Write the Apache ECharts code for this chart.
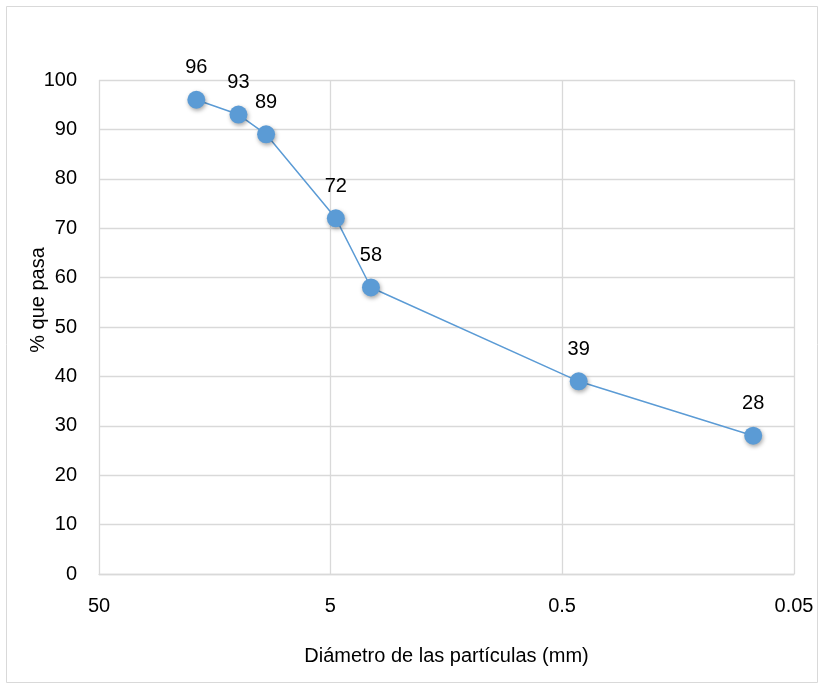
<!DOCTYPE html>
<html>
<head>
<meta charset="utf-8">
<script src="https://cdn.jsdelivr.net/npm/echarts@6/dist/echarts.min.js"></script>
<style>
  html, body { margin: 0; padding: 0; background: #fff; }
  #chart { width: 823px; height: 689px; }
</style>
</head>
<body>
<div id="chart"></div>
<script>
// Grain-size curve: sieve opening (mm) vs. percent passing
const diameters = [19, 12.5, 9.5, 4.75, 3.35, 0.425, 0.075];
const passing = [96, 93, 89, 72, 58, 39, 28];
const xTicks = [50, 5, 0.5, 0.05];
const yTicks = [0, 10, 20, 30, 40, 50, 60, 70, 80, 90, 100];

const FONT = '"Liberation Sans", "DejaVu Sans", sans-serif';
const BLUE = '#5B9BD5';
const GRID = '#d9d9d9';

const chart = echarts.init(document.getElementById('chart'), null, { renderer: 'canvas' });

chart.setOption({
  animation: false,
  backgroundColor: '#fff',
  graphic: [{
    type: 'rect',
    shape: { x: 6.5, y: 6.5, width: 811, height: 676 },
    style: { fill: 'none', stroke: GRID, lineWidth: 1 },
    silent: true
  }],
  grid: { left: 99, right: 29, top: 80, bottom: 115 },
  xAxis: {
    type: 'log',
    logBase: 10,
    min: xTicks[xTicks.length - 1],
    max: xTicks[0],
    interval: 1,
    inverse: true,
    name: 'Diámetro de las partículas (mm)',
    nameLocation: 'middle',
    nameGap: 72,
    nameMoveOverlap: false,
    nameTextStyle: { fontFamily: FONT, fontSize: 20, color: '#000' },
    axisLine: { show: true, lineStyle: { color: GRID, width: 1.3 } },
    axisTick: { show: false },
    axisLabel: {
      fontFamily: FONT, fontSize: 20, color: '#000', margin: 22,
      formatter: v => String(Number(Number(v).toPrecision(2)))
    },
    splitLine: { show: true, lineStyle: { color: GRID, width: 1.3 } }
  },
  yAxis: {
    type: 'value',
    min: yTicks[0],
    max: yTicks[yTicks.length - 1],
    interval: 10,
    name: '% que pasa',
    nameLocation: 'middle',
    nameGap: 51,
    nameMoveOverlap: false,
    nameRotate: 90,
    nameTextStyle: { fontFamily: FONT, fontSize: 20, color: '#000', padding: [0, 0, 0, 54] },
    axisLine: { show: false },
    axisTick: { show: false },
    axisLabel: { fontFamily: FONT, fontSize: 20, color: '#000', margin: 22 },
    splitLine: { show: true, lineStyle: { color: GRID, width: 1.3 } }
  },
  series: [{
    type: 'line',
    data: diameters.map((d, i) => [d, passing[i]]),
    symbol: 'circle',
    symbolSize: 18,
    itemStyle: {
      color: BLUE,
      shadowColor: 'rgba(0,0,0,0.35)',
      shadowBlur: 4,
      shadowOffsetX: 1,
      shadowOffsetY: 2
    },
    lineStyle: { color: BLUE, width: 1.5 },
    label: {
      show: true,
      position: 'top',
      distance: 13,
      fontFamily: FONT,
      fontSize: 20,
      color: '#000'
    }
  }]
});
</script>
</body>
</html>
